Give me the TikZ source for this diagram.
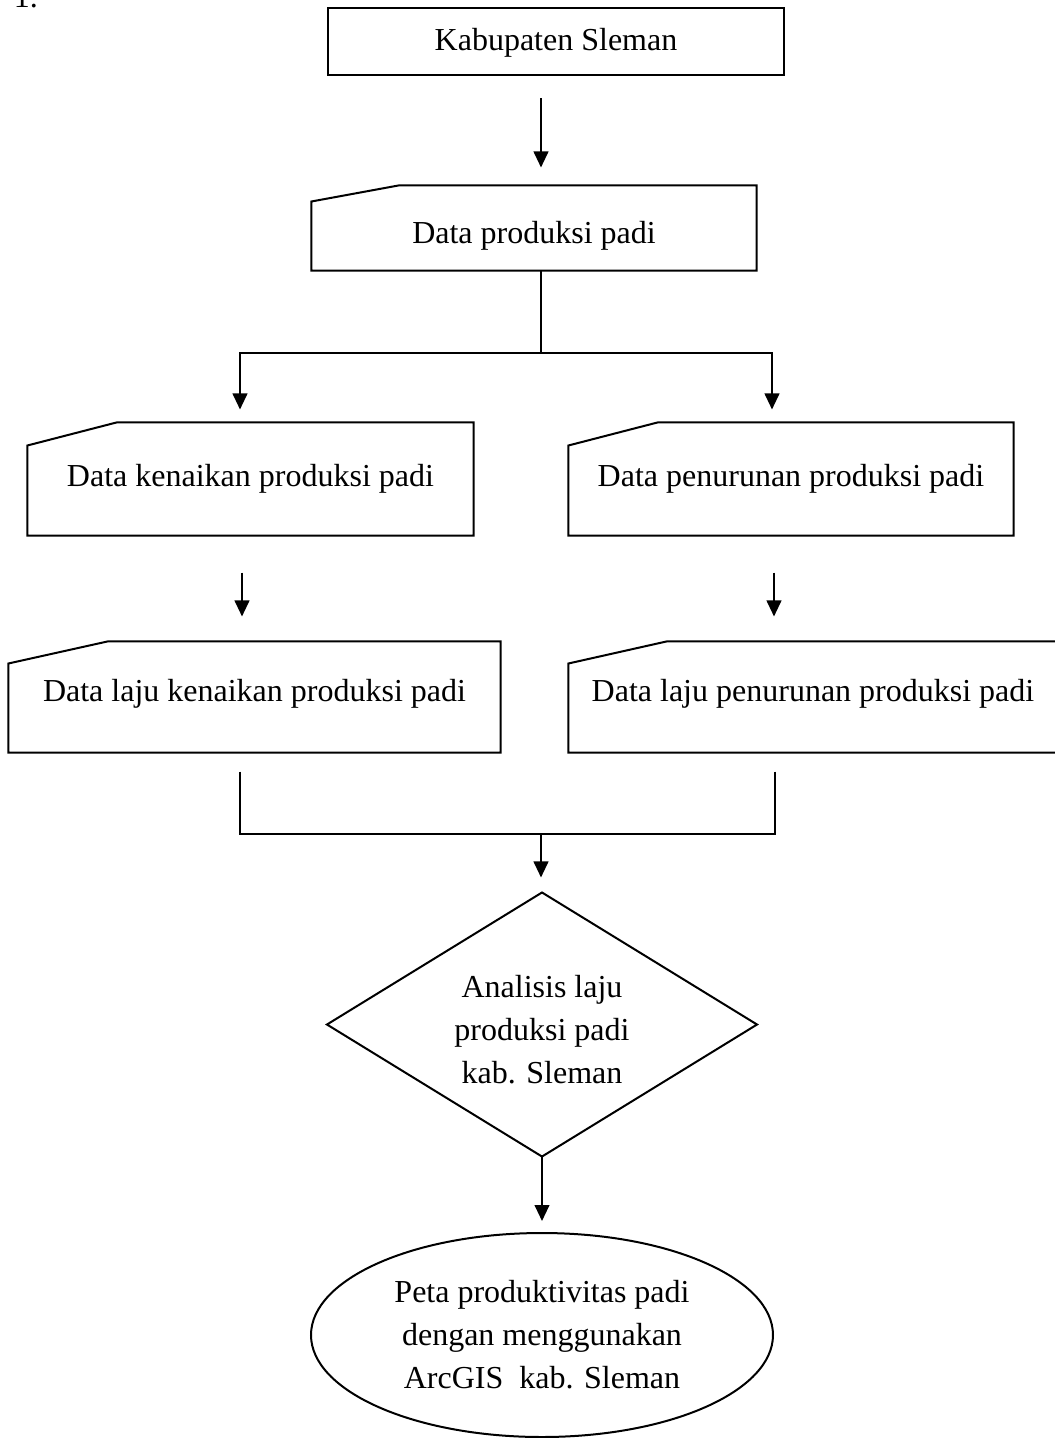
\documentclass[tikz,border=0pt]{standalone}
\usepackage{fontspec}
\setmainfont{Liberation Serif}
\usetikzlibrary{arrows.meta,calc,shapes.geometric}
\newcommand\minput[3]{\draw[line] (#1.north east) -- (#1.south east) -- (#1.south west) -- ($(#1.north west)+(0,#3)$) -- ($(#1.north west)+(#2,0)$) -- cycle;}
\begin{document}
\begin{tikzpicture}[x=0.375pt,y=-0.375pt,
  every node/.style={font=\fontsize{12}{16.1}\selectfont},
  line/.style={line width=0.75pt},
  arr/.style={line width=0.75pt,-{Triangle[width=5.5pt,length=6pt]}},
  box/.style={rectangle, inner sep=0pt, align=center},
]
\useasboundingbox (0,0) rectangle (1055,1438);
\clip (0,0) rectangle (1055,1438);

\node[anchor=base] (num) at (26,7.5) {1.};

\node[box, draw, line, minimum width={456*0.375pt}, minimum height={67*0.375pt}, text height=9.2pt, text depth=2.6pt] (kab) at (556,41.5) {Kabupaten Sleman};

\node[box, minimum width={444*0.375pt}, minimum height={84*0.375pt}, text height=14.2pt, text depth=2.6pt] (prod) at (534,228) {Data produksi padi};
\minput{prod}{87}{16}

\node[box, minimum width={445*0.375pt}, minimum height={112*0.375pt}] (naik) at (250.5,479) {Data kenaikan produksi padi};
\minput{naik}{89}{23}

\node[box, minimum width={444*0.375pt}, minimum height={112*0.375pt}] (turun) at (791,479) {Data penurunan produksi padi};
\minput{turun}{89}{23}

\node[box, minimum width={491*0.375pt}, minimum height={110*0.375pt}, text depth=5pt] (lnaik) at (254.5,697) {Data laju kenaikan produksi padi};
\minput{lnaik}{99}{22}

\node[box, minimum width={488*0.375pt}, minimum height={110*0.375pt}, text depth=5pt] (lturun) at (813,697) {Data laju penurunan produksi padi};
\minput{lturun}{98}{22}

\node[box, minimum width={429*0.375pt}, minimum height={263*0.375pt}] (ana) at (542,1024.5) {};
\draw[line] (ana.north) -- (ana.east) -- (ana.south) -- (ana.west) -- cycle;
\node[align=center, inner sep=0pt] (anatext) at (542,1030) {Analisis laju\\produksi padi\\kab. Sleman};

\node[ellipse, draw, line, inner sep=0pt, align=center, minimum width={462*0.375pt}, minimum height={204*0.375pt}] (peta) at (542,1335) {Peta produktivitas padi\\dengan menggunakan\\ArcGIS~ kab. Sleman};

% connectors
\draw[arr] ($(kab.south)+(-15,22)$) -- ($(prod.north)+(7,-18)$);

\coordinate (split) at ($(prod.south)+(7,82)$);
\draw[line] ($(prod.south)+(7,0)$) -- (split);
\draw[arr] (split) -| ($(naik.north)+(-10.5,-13)$);
\draw[arr] (split) -| ($(turun.north)+(-19,-13)$);

\draw[arr] ($(naik.south)+(-8.5,37)$) -- ($(lnaik.north)+(-12.5,-25)$);
\draw[arr] ($(turun.south)+(-17,37)$) -- ($(lturun.north)+(-39,-25)$);

\coordinate (merge) at ($(ana.north)+(-1,-58)$);
\draw[line] ($(lnaik.south)+(-14.5,19)$) |- (merge);
\draw[line] ($(lturun.south)+(-38,19)$) |- (merge);
\draw[arr] (merge) -- ($(ana.north)+(-1,-15)$);

\draw[arr] (ana.south) -- ($(peta.north)+(0,-11)$);
\end{tikzpicture}
\end{document}
